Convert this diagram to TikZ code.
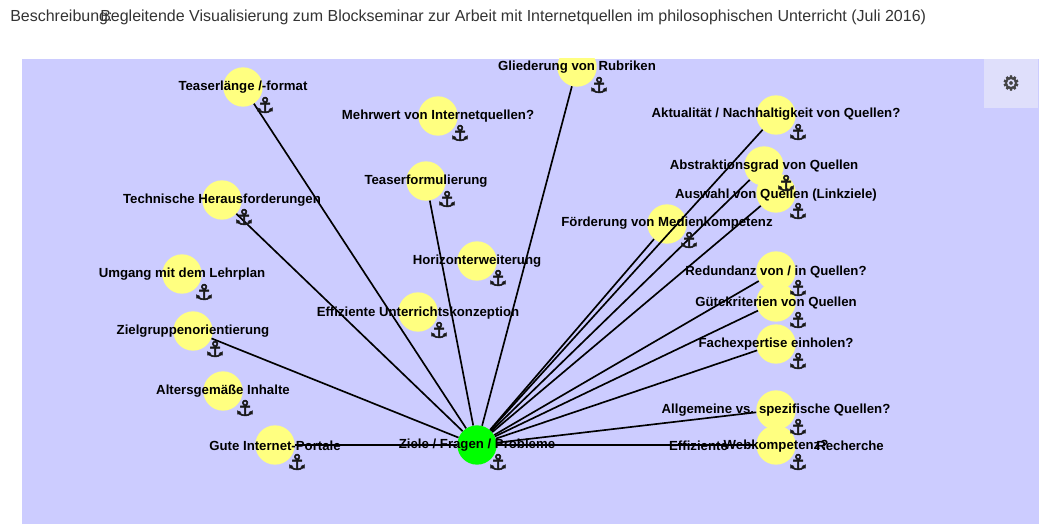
\documentclass[tikz,border=0pt]{standalone}
\usepackage{fontspec}
\setmainfont{Liberation Sans}
\newfontfamily\symfont[FakeBold=2.5]{DejaVu Sans}
\usetikzlibrary{positioning}
\definecolor{panelblue}{HTML}{CCCCFF}
\definecolor{knotyellow}{HTML}{FFFF80}
\definecolor{knotgreen}{HTML}{00FF00}
\definecolor{titlegrey}{HTML}{333333}
\definecolor{gearbox}{HTML}{DFDFFB}
\definecolor{geargrey}{HTML}{444444}
\tikzset{
    knot/.style={circle, fill=knotyellow, minimum size=29.5pt, inner sep=0pt},
    root/.style={knot, fill=knotgreen},
    knotlabel/.style={font=\fontsize{9.9}{11}\bfseries, text=black, inner sep=0pt, yshift=-1.2pt},
    anchorsign/.style={font=\symfont\fontsize{16}{16}\selectfont, text=black!90, inner sep=0pt},
    titletext/.style={anchor=west, inner sep=0pt, text=titlegrey, font=\fontsize{12}{14}\selectfont},
    link/.style={draw=black, line width=1.25pt}
}
\begin{document}
\begin{tikzpicture}[x=0.75pt, y=-0.75pt]
    \useasboundingbox (0,0) rectangle (1052,524);
    \fill[panelblue] (22,59) rectangle (1039,524);

    % Title line
    \node[titletext] (desc) at (10,17) {Beschreibung:};
    \node[titletext] (title) at (100,17) {Begleitende Visualisierung zum Blockseminar zur Arbeit mit Internetquellen im philosophischen Unterricht (Juli 2016)};

    % Gear box
    \fill[gearbox] (984,59) rectangle (1038,108);
    \node[inner sep=0pt, text=geargrey, font=\symfont\fontsize{15}{15}\selectfont] (gear) at (1011,83) {\char"2699};

    % Knots
    \begin{scope}
        \clip (22,59) rectangle (1039,524);
        \node[knot] (gliederung) at (577,67) {};
    \end{scope}
    \node[knot] (teaserlaenge) at (243,87) {};
    \node[knot] (mehrwert) at (438,116) {};
    \node[knot] (auswahl) at (776,193) {};
    \node[knot] (aktualitaet) at (776,115) {};
    \node[knot] (abstraktion) at (764,166) {};
    \node[knot] (foerderung) at (667,224) {};
    \node[knot] (teaserform) at (426,181) {};
    \node[knot] (technik) at (222,200) {};
    \node[knot] (horizont) at (477,261) {};
    \node[knot] (lehrplan) at (182,274) {};
    \node[knot] (guete) at (776,302) {};
    \node[knot] (redundanz) at (776,271) {};
    \node[knot] (unterricht) at (418,312) {};
    \node[knot] (zielgruppe) at (193,331) {};
    \node[knot] (fachexpertise) at (776,344) {};
    \node[knot] (inhalte) at (223,391) {};
    \node[knot] (allgemein) at (776,410) {};
    \node[knot] (portale) at (275,445) {};
    \node[knot] (recherche) at (776,445) {};
    \node[root] (ziele) at (477,445) {};

    % Links
    \foreach \target in {teaserlaenge, technik, zielgruppe, portale, teaserform, gliederung,
        foerderung, aktualitaet, abstraktion, auswahl, redundanz, guete, fachexpertise,
        allgemein, recherche}
        \draw[link] (ziele) -- (\target);

    % Labels
    \node[knotlabel] (lbla) at (243,86) {Teaserlänge /-format};
    \node[knotlabel] (lblb) at (438,114) {Mehrwert von Internetquellen?};
    \node[knotlabel] (lblc) at (577,66) {Gliederung von Rubriken};
    \node[knotlabel] (lbld) at (776,113) {Aktualität / Nachhaltigkeit von Quellen?};
    \node[knotlabel] (lble) at (764,165) {Abstraktionsgrad von Quellen};
    \node[knotlabel] (lblf) at (776,193) {Auswahl von Quellen (Linkziele)};
    \node[knotlabel] (lblg) at (667,222) {Förderung von Medienkompetenz};
    \node[knotlabel] (lblh) at (426,180) {Teaserformulierung};
    \node[knotlabel] (lbli) at (222,199) {Technische Herausforderungen};
    \node[knotlabel] (lblj) at (477,260) {Horizonterweiterung};
    \node[knotlabel] (lblk) at (182,273) {Umgang mit dem Lehrplan};
    \node[knotlabel] (lbll) at (776,270) {Redundanz von / in Quellen?};
    \node[knotlabel] (lblm) at (776,301) {Gütekriterien von Quellen};
    \node[knotlabel] (lbln) at (418,311) {Effiziente Unterrichtskonzeption};
    \node[knotlabel] (lblo) at (193,330) {Zielgruppenorientierung};
    \node[knotlabel] (lblp) at (776,342) {Fachexpertise einholen?};
    \node[knotlabel] (lblq) at (223,390) {Altersgemäße Inhalte};
    \node[knotlabel] (lblr) at (776,409) {Allgemeine vs. spezifische Quellen?};
    \node[knotlabel] (lbls) at (275,444) {Gute Internet-Portale};
    \node[knotlabel] (lblt) at (477,444) {Ziele / Fragen / Probleme};
    \node[knotlabel] (lblu) at (776.5,444) {\makebox[161pt]{Effiziente\hfill Recherche}};
    \node[knotlabel] (lblv) at (776,444) {Webkompetenz?};

    % Anchors
    \foreach \k/\px/\py in {a/265/105, b/460/133, c/599/85, d/798/132, e/786/183, f/798/211,
        g/689/240, h/447/199, i/244/217, j/498/278, k/204/292, l/798/288, m/798/320, n/439/330,
        o/215/349, p/798/361, q/245/408, r/798/427, s/297/462, t/498/462, u/798/462}
        \node[anchorsign] (anc\k) at (\px,\py) {\char"2693};
\end{tikzpicture}
\end{document}
